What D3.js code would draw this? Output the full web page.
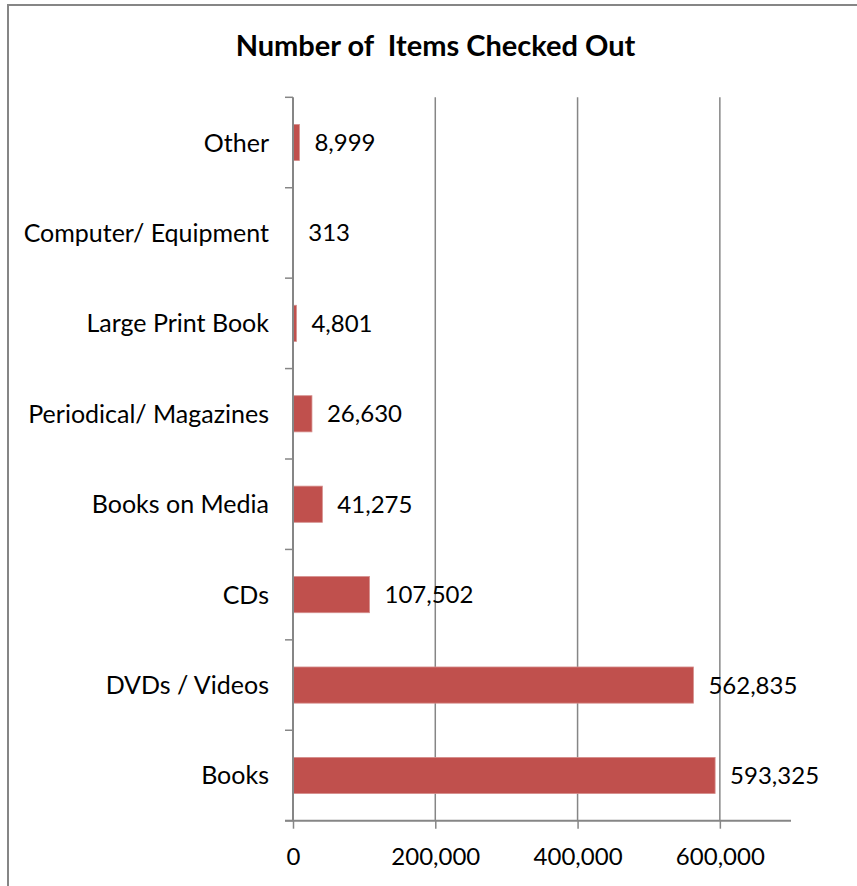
<!DOCTYPE html>
<html>
<head>
<meta charset="utf-8">
<script src="https://cdn.jsdelivr.net/npm/d3@7"></script>
<style>
  html, body { margin: 0; padding: 0; background: #fff; }
  svg { display: block; }
  text { font-family: Lato, "Open Sans", sans-serif; fill: #000; }
</style>
</head>
<body>
<svg id="chart" width="857" height="886"></svg>
<script>
// Library circulation by item type
const categories = ["Books", "DVDs / Videos", "CDs", "Books on Media",
  "Periodical/ Magazines", "Large Print Book", "Computer/ Equipment", "Other"];
const checkouts = [593325, 562835, 107502, 41275, 26630, 4801, 313, 8999];
const xTicks = [0, 200000, 400000, 600000];
const xMax = 700000;
const title = "Number of  Items Checked Out";

const W = 857, H = 886;
const plot = { left: 293, right: 791, top: 97.3, bottom: 820.7 };
const axisColor = "#868686";

const svg = d3.select("#chart");

// chart frame
svg.append("path")
  .attr("d", `M8,${H} V5 H${W}`)
  .attr("fill", "none")
  .attr("stroke", axisColor)
  .attr("stroke-width", 2);

svg.append("text")
  .attr("x", 435.5).attr("y", 56)
  .attr("text-anchor", "middle")
  .style("font-size", "29px").style("font-weight", "bold")
  .style("white-space", "pre")
  .text(title);

const x = d3.scaleLinear().domain([0, xMax]).range([plot.left, plot.right]);
const y = d3.scaleBand()
  .domain(categories)
  .range([plot.bottom, plot.top])
  .paddingInner(0.6).paddingOuter(0.3);

const fmt = d3.format(",");

// vertical gridlines
svg.append("g").selectAll("line")
  .data(xTicks.filter(d => d > 0))
  .join("line")
  .attr("x1", d => x(d)).attr("x2", d => x(d))
  .attr("y1", plot.top).attr("y2", plot.bottom)
  .attr("stroke", axisColor).attr("stroke-width", 1.5);

// bars
const rows = categories.map((c, i) => ({ c, v: checkouts[i] }));
svg.append("g").selectAll("rect")
  .data(rows)
  .join("rect")
  .attr("x", x(0))
  .attr("y", d => y(d.c))
  .attr("width", d => x(d.v) - x(0))
  .attr("height", y.bandwidth())
  .attr("fill", "#C0504D")
  .attr("stroke", "#D58E8C")
  .attr("stroke-width", 0.8);

// value labels
svg.append("g").selectAll("text")
  .data(rows)
  .join("text")
  .attr("x", d => x(d.v) + 15)
  .attr("y", d => y(d.c) + y.bandwidth() / 2 + 8.5)
  .style("font-size", "24px")
  .text(d => fmt(d.v));

// category axis
const yAxis = d3.axisLeft(y).tickSize(0).tickPadding(24);
const gy = svg.append("g").attr("transform", `translate(${plot.left},0)`).call(yAxis);
gy.select(".domain").remove();
gy.selectAll("text")
  .style("font-size", "25px")
  .attr("dy", null)
  .attr("y", 9);

// category boundary ticks
const bounds = d3.range(categories.length + 1).map(i => plot.bottom - i * (plot.bottom - plot.top) / categories.length);
svg.append("g").selectAll("line")
  .data(bounds)
  .join("line")
  .attr("x1", plot.left - 8).attr("x2", plot.left)
  .attr("y1", d => d).attr("y2", d => d)
  .attr("stroke", axisColor).attr("stroke-width", 1.5);
svg.append("line")
  .attr("x1", plot.left).attr("x2", plot.left)
  .attr("y1", plot.top).attr("y2", plot.bottom)
  .attr("stroke", axisColor).attr("stroke-width", 2);

// value axis
const xAxis = d3.axisBottom(x).tickValues(xTicks).tickFormat(fmt).tickSize(8).tickPadding(19);
const gx = svg.append("g").attr("transform", `translate(0,${plot.bottom})`).call(xAxis);
gx.select(".domain")
  .attr("d", `M${plot.left - 8},0H${plot.right}`)
  .attr("stroke", axisColor).attr("stroke-width", 2);
gx.selectAll(".tick line").attr("stroke", axisColor).attr("stroke-width", 1.5);
gx.selectAll("text").style("font-size", "24px").attr("fill", "#000");
</script>
</body>
</html>
